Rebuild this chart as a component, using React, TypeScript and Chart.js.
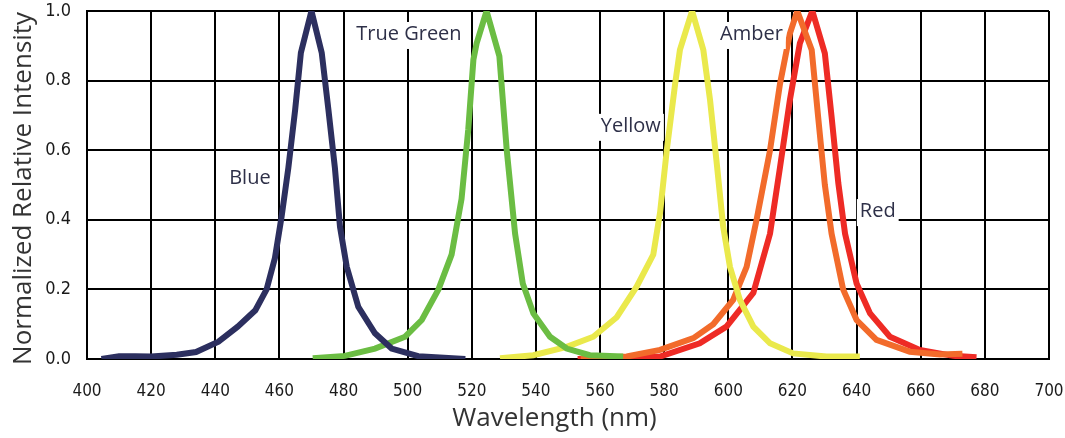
import React, { useEffect, useRef } from "react";
import { Chart, registerables } from "chart.js";

Chart.register(...registerables);

// ---- data (wavelength in nm, normalized intensity) ----
const blueNm = [404.5, 410, 415, 420, 428, 434, 441, 447, 452.5, 456, 458.6, 460.7, 462.8, 464.9, 466.7, 470, 473.2, 475.3, 477.3, 478.9, 481, 484.6, 489.8, 495, 503.3, 510, 518];
const blueVal = [0.0, 0.008, 0.008, 0.007, 0.012, 0.02, 0.05, 0.093, 0.14, 0.2, 0.29, 0.41, 0.55, 0.715, 0.88, 1.0, 0.88, 0.715, 0.55, 0.38, 0.265, 0.15, 0.074, 0.03, 0.008, 0.004, 0.0];

const greenNm = [470.4, 480.4, 489.8, 499.2, 504.4, 509.6, 513.7, 516.8, 518.9, 520.5, 521.5, 524.6, 528.6, 530.9, 533.5, 535.9, 539.2, 544.4, 549.6, 556.8, 567.2];
const greenVal = [0.002, 0.009, 0.03, 0.064, 0.112, 0.2, 0.3, 0.46, 0.66, 0.86, 0.907, 1.0, 0.87, 0.6, 0.36, 0.217, 0.131, 0.064, 0.03, 0.011, 0.007];

const yellowNm = [528.8, 539.2, 549.6, 557.9, 565.2, 571.4, 576.6, 578.7, 580.8, 583.4, 584.9, 588.7, 592.2, 594.3, 596.3, 598.4, 600.5, 603.6, 607.8, 613, 620.2, 630.6, 641];
const yellowVal = [0.002, 0.011, 0.035, 0.064, 0.12, 0.208, 0.3, 0.42, 0.6, 0.79, 0.888, 1.0, 0.888, 0.744, 0.57, 0.38, 0.265, 0.17, 0.093, 0.045, 0.016, 0.007, 0.007];

const amberNm = [554, 568.3, 578.7, 589.1, 595.3, 601.5, 605.7, 608.8, 613, 616.1, 619.2, 621.5, 626, 628, 630.1, 632.2, 635.8, 640, 646.2, 656.6, 666, 673];
const amberVal = [0.0, 0.007, 0.026, 0.06, 0.1, 0.17, 0.265, 0.4, 0.6, 0.79, 0.935, 1.0, 0.888, 0.696, 0.5, 0.36, 0.2, 0.112, 0.055, 0.021, 0.013, 0.015];

const redNm = [553, 566, 578.7, 591.1, 599.4, 607.8, 613, 616.1, 619.2, 622.3, 626.2, 630.1, 632.2, 634.3, 636.4, 640, 644.2, 650.4, 659.7, 670.1, 677.4];
const redVal = [0.0, 0.003, 0.007, 0.045, 0.093, 0.19, 0.36, 0.55, 0.744, 0.907, 1.0, 0.878, 0.696, 0.505, 0.36, 0.217, 0.131, 0.064, 0.026, 0.009, 0.005];

const seriesNames = ["Blue", "True Green", "Yellow", "Amber", "Red"];
const seriesColors = ["#2c2f5f", "#6bbd43", "#eae94c", "#f26b2b", "#ee2b25"];

// labels placed in data coordinates
const labelTexts = ["Blue", "True Green", "Yellow", "Amber", "Red"];
const labelNm = [450.8, 500.4, 569.6, 607.2, 646.6];
const labelVal = [0.52, 0.934, 0.67, 0.934, 0.425];

const xTicks = [400, 420, 440, 460, 480, 500, 520, 540, 560, 580, 600, 620, 640, 660, 680, 700];
const yTicks = [0, 0.2, 0.4, 0.6, 0.8, 1.0];

const toPoints = (nm: number[], val: number[]) => nm.map((x, i) => ({ x, y: val[i] }));

const zeroPadding = (s: any) => {
  s.paddingTop = 0;
  s.paddingBottom = 0;
  s.paddingLeft = 0;
  s.paddingRight = 0;
};

const labelPlugin = {
  id: "curveLabels",
  afterDatasetsDraw(chart: any) {
    const { ctx, scales } = chart;
    ctx.save();
    ctx.font = '20px "Open Sans", sans-serif';
    ctx.textAlign = "center";
    ctx.textBaseline = "middle";
    labelTexts.forEach((t, i) => {
      const cx = scales.x.getPixelForValue(labelNm[i]);
      const cy = scales.y.getPixelForValue(labelVal[i]);
      const w = ctx.measureText(t).width;
      ctx.fillStyle = "#ffffff";
      ctx.fillRect(cx - w / 2 - 3, cy - 12, w + 6, 27);
      ctx.fillStyle = "#2e3048";
      ctx.fillText(t, cx, cy);
    });
    ctx.restore();
  },
};

export default function App() {
  const ref = useRef<HTMLCanvasElement | null>(null);

  useEffect(() => {
    if (!ref.current) return;
    const sets = [
      toPoints(blueNm, blueVal),
      toPoints(greenNm, greenVal),
      toPoints(yellowNm, yellowVal),
      toPoints(amberNm, amberVal),
      toPoints(redNm, redVal),
    ];
    const chart = new Chart(ref.current, {
      type: "line",
      data: {
        datasets: sets.map((d, i) => ({
          label: seriesNames[i],
          data: d,
          borderColor: seriesColors[i],
          backgroundColor: seriesColors[i],
          borderWidth: 6,
          pointRadius: 0,
          tension: 0,
          fill: false,
          borderJoinStyle: "miter" as const,
          borderCapStyle: "butt" as const,
        })),
      },
      options: {
        animation: false,
        responsive: false,
        maintainAspectRatio: false,
        layout: { padding: { top: 11, right: 16, left: 0, bottom: 0 } },
        plugins: { legend: { display: false }, tooltip: { enabled: false } },
        scales: {
          x: {
            type: "linear",
            min: 400,
            max: 700,
            afterBuildTicks: (s: any) => {
              s.ticks = xTicks.map((v) => ({ value: v }));
            },
            afterFit: (s: any) => {
              s.height = 79;
              zeroPadding(s);
            },
            grid: { color: "#000000", lineWidth: 2, drawTicks: false },
            border: { display: true, color: "#000000", width: 2 },
            ticks: {
              padding: 22,
              color: "#1a1a1a",
              font: { family: '"Liberation Sans Narrow", "DejaVu Sans Condensed", sans-serif', size: 17 },
              maxRotation: 0,
              autoSkip: false,
              callback: (v: any) => String(v),
            },
            title: {
              display: true,
              text: "Wavelength (nm)\u00A0\u00A0\u00A0\u00A0",
              color: "#333333",
              font: { family: '"Open Sans", sans-serif', size: 26 },
              padding: { top: 0, bottom: 4 },
            },
          },
          y: {
            type: "linear",
            min: 0,
            max: 1,
            afterBuildTicks: (s: any) => {
              s.ticks = yTicks.map((v) => ({ value: v }));
            },
            afterFit: (s: any) => {
              s.width = 87;
              zeroPadding(s);
            },
            grid: { color: "#000000", lineWidth: 2, drawTicks: false },
            border: { display: true, color: "#000000", width: 2 },
            ticks: {
              padding: 16,
              color: "#1a1a1a",
              font: { family: '"Liberation Sans Narrow", "DejaVu Sans Condensed", sans-serif', size: 18 },
              callback: (v: any) => Number(v).toFixed(1),
            },
            title: {
              display: true,
              text: "Normalized Relative Intensity\u00A0",
              color: "#333333",
              font: { family: '"Open Sans", sans-serif', size: 26 },
              padding: { top: 8, bottom: 0 },
            },
          },
        },
      },
      plugins: [labelPlugin],
    });
    return () => chart.destroy();
  }, []);

  return (
    <div style={{ position: "absolute", left: 0, top: 0, width: 1065, height: 438, background: "#ffffff" }}>
      <canvas ref={ref} width={1065} height={438} style={{ width: 1065, height: 438 }} />
    </div>
  );
}
